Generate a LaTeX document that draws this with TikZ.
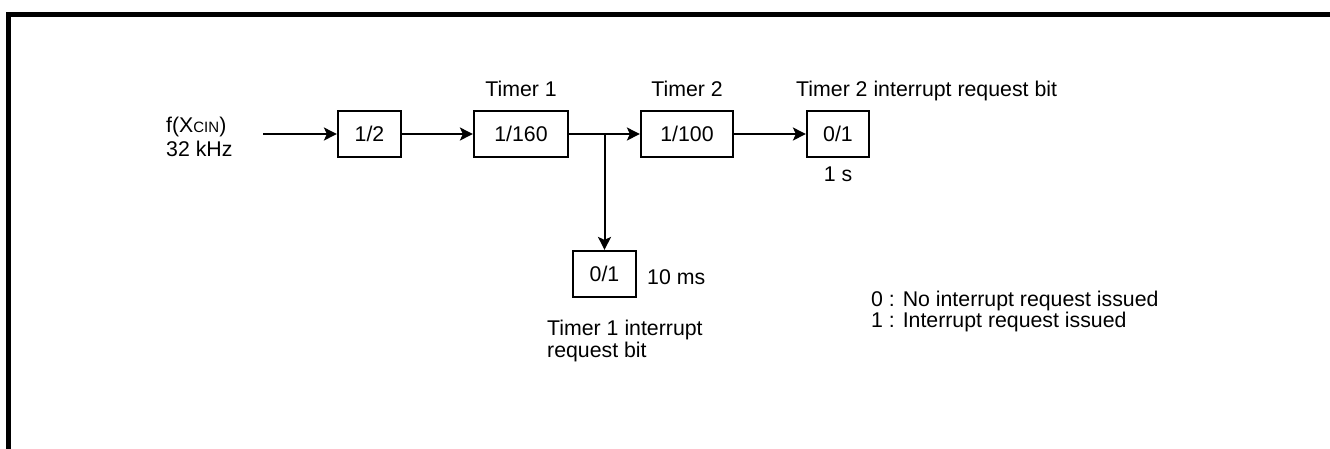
\documentclass[tikz,border=0pt]{standalone}
\usepackage{fontspec}
\setmainfont{Liberation Sans}
\usetikzlibrary{arrows.meta}
\tikzset{
  blk/.style={draw, line width=2.2pt, rectangle, inner sep=0pt, minimum height=46pt},
  conn/.style={line width=2pt},
  arr/.style={conn, -{Stealth[length=13pt,width=13pt,inset=3pt]}},
  lbl/.style={inner sep=0pt},
}
\begin{document}
\begin{tikzpicture}[x=1pt,y=1pt,font=\fontsize{21.3}{24}\selectfont]
\useasboundingbox (0,0) rectangle (1330,-448);
% frame (top and left edges)
\draw[line width=4.7pt, line join=miter] (8.3,-460) -- (8.3,-14.3) -- (1340,-14.3);

% input label
\node[lbl, anchor=base west] (fx) at (166,-132) {f(X{\fontsize{15}{17}\selectfont CIN})};
\node[lbl, anchor=base west] (fk) at (166,-156) {32 kHz};
\coordinate (in) at (263,-134);

% blocks
\node[blk, minimum width=63pt] (b2) at (369.5,-134) {1/2};
\node[blk, minimum width=94pt] (t1) at (521,-134) {1/160};
\node[blk, minimum width=92pt] (t2) at (687,-134) {1/100};
\node[blk, minimum width=62pt] (ir2) at (838,-134) {0/1};
\node[blk, minimum width=63pt] (ir1) at (604.5,-274) {0/1};
\coordinate (br) at (604.5,-134);

% connectors
\draw[arr] (in) -- (b2.west);
\draw[arr] (b2.east) -- (t1.west);
\draw[arr] (t1.east) -- (t2.west);
\draw[arr] (br) -- (ir1.north);
\draw[arr] (t2.east) -- (ir2.west);

% labels
\node[lbl, anchor=base] (lt1) at (521,-96) {Timer 1};
\node[lbl, anchor=base] (lt2) at (687,-96) {Timer 2};
\node[lbl, anchor=base west] (lir2) at (796,-96) {Timer 2 interrupt request bit};
\node[lbl, anchor=base] (l1s) at (838,-181) {1 s};
\node[lbl, anchor=base west] (l10) at (647,-284) {10 ms};
\node[lbl, anchor=base west] (lir1a) at (547,-335) {Timer 1 interrupt};
\node[lbl, anchor=base west] (lir1b) at (547,-357) {request bit};
\node[lbl, anchor=base west] (leg0) at (871,-306) {0 : No interrupt request issued};
\node[lbl, anchor=base west] (leg1) at (871,-327) {1 : Interrupt request issued};
\end{tikzpicture}
\end{document}
